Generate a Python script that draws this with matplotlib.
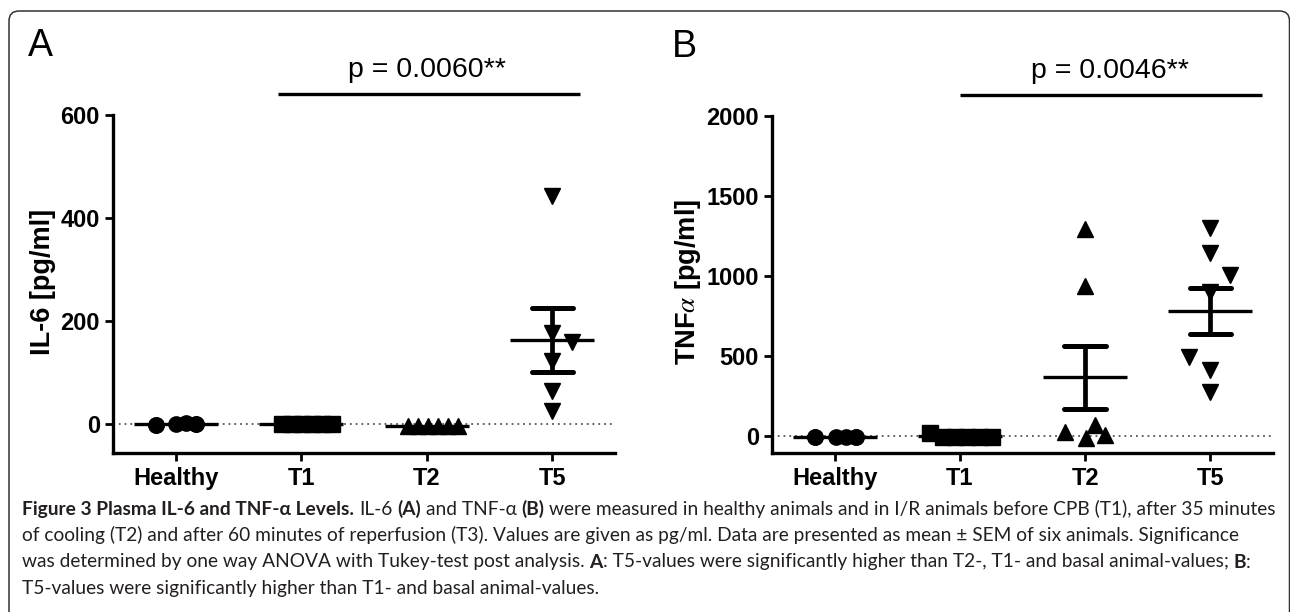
import matplotlib
matplotlib.use("Agg")
import matplotlib.pyplot as plt
import numpy as np
from matplotlib.patches import FancyBboxPatch
from matplotlib.transforms import IdentityTransform, blended_transform_factory

# ---------------- data ----------------
groups = ["Healthy", "T1", "T2", "T5"]

il6_healthy = [-1, -1, 1, 2, 0, 0]
il6_t1 = [0, 0, 0, 0, 0, 0]
il6_t2 = [-3, -3, -3, -3, -3, -3]
il6_t5 = [443, 177, 159, 122, 64, 26]
il6_mean = [0, 0, -3, 164]
il6_sem = [0, 0, 0, 62]

tnf_healthy = [-4, -4, -4, -4, -4, -4]
tnf_t1 = [17, -3, -3, -3, -3, -3]
tnf_t2 = [1294, 938, 27, -12, 69, 6]
tnf_t5 = [1300, 1146, 1006, 900, 496, 412, 277]
tnf_mean = [-4, 0, 366, 781]
tnf_sem = [0, 3, 198, 144]

p_text_a = "p = 0.0060**"
p_text_b = "p = 0.0046**"

# horizontal scatter offsets (layout only, category units)
jit_a = [
    [-0.155, -0.155, 0.0, 0.085, 0.165, 0.165],
    [-0.155, -0.075, 0.005, 0.085, 0.165, 0.245],
    [-0.15, -0.07, 0.01, 0.09, 0.17, 0.25],
    [0.0, 0.0, 0.16, 0.0, 0.0, 0.0],
]
jit_b = [
    [-0.155, -0.155, 0.01, 0.09, 0.17, 0.17],
    [-0.235, -0.135, -0.035, 0.06, 0.16, 0.26],
    [0.0, 0.0, -0.16, 0.01, 0.08, 0.16],
    [0.0, 0.0, 0.16, 0.0, -0.17, 0.0, 0.0],
]
markers = ["o", "s", "^", "v"]
msizes = [11, 11.5, 11.5, 11.5]

# ---------------- figure ----------------
W, H = 1290, 612
plt.rcParams["font.family"] = ["Liberation Sans", "DejaVu Sans"]
plt.rcParams["mathtext.fontset"] = "stix"
fig = plt.figure(figsize=(W / 100, H / 100), dpi=100)


def fbox(l, t, r, b):
    return [l / W, 1 - b / H, (r - l) / W, (b - t) / H]


# frame with rounded top corners
frame = FancyBboxPatch((9, -30), 1280.5, 612 - 11 + 30,
                       boxstyle="round,pad=0,rounding_size=10",
                       transform=IdentityTransform(), fill=False,
                       edgecolor="#333333", linewidth=1.1)
fig.patches.append(frame)

axA = fig.add_axes(fbox(113, 115, 615, 453))
axB = fig.add_axes(fbox(772, 116, 1273, 453))


def style_axes(ax, ylim, yticks):
    ax.set_facecolor("none")
    ax.set_xlim(-0.5, 3.5)
    ax.set_ylim(*ylim)
    for s in ["top", "right"]:
        ax.spines[s].set_visible(False)
    for s in ["left", "bottom"]:
        ax.spines[s].set_linewidth(2.4)
    ax.set_yticks(yticks)
    ax.set_xticks(range(len(groups)))
    ax.set_xticklabels(groups)
    ax.tick_params(axis="both", length=6, width=2.0, labelsize=17)
    ax.tick_params(axis="y", pad=3.5)
    ax.tick_params(axis="x", pad=4)
    for lab in ax.get_xticklabels() + ax.get_yticklabels():
        lab.set_fontweight("bold")
    ax.axhline(0, color="#555555", lw=1.3, ls=(0, (1, 2.2)), zorder=1)


def draw_panel(ax, series, jits, means, sems):
    for i, (vals, jit) in enumerate(zip(series, jits)):
        x = i + np.array(jit[: len(vals)])
        ax.plot(x, vals, ls="none", marker=markers[i], ms=msizes[i],
                color="black", mec="black", zorder=3, clip_on=False)
        m, s = means[i], sems[i]
        ax.plot([i - 0.335, i + 0.335], [m, m], color="black", lw=2.4,
                solid_capstyle="butt", zorder=4)
        if s > 5:
            ax.plot([i, i], [m - s, m + s], color="black", lw=3.4, zorder=4)
            for y in (m - s, m + s):
                ax.plot([i - 0.165, i + 0.165], [y, y], color="black", lw=3.6,
                        solid_capstyle="round", zorder=4)


def sig(ax, x0, x1, xt, text):
    tr = blended_transform_factory(ax.transData, ax.transAxes)
    ax.plot([x0, x1], [1.062, 1.062], transform=tr, color="black", lw=2.4,
            clip_on=False, solid_capstyle="butt")
    ax.text(xt, 1.112, text, transform=tr, ha="center", va="baseline",
            fontsize=20.5)


style_axes(axA, (-56, 600), [0, 200, 400, 600])
style_axes(axB, (-106, 2000), [0, 500, 1000, 1500, 2000])

draw_panel(axA, [il6_healthy, il6_t1, il6_t2, il6_t5], jit_a, il6_mean, il6_sem)
draw_panel(axB, [tnf_healthy, tnf_t1, tnf_t2, tnf_t5], jit_b, tnf_mean, tnf_sem)

sig(axA, 0.816, 3.224, 2.0, p_text_a)
sig(axB, 1.0, 3.416, 2.2, p_text_b)

fig.text(43 / W, 1 - 282 / H, "IL-6 [pg/ml]", rotation=90, ha="center",
         va="center", fontsize=19.5, fontweight="bold")
fig.text(688 / W, 1 - 282 / H, r"TNF$\alpha$ [pg/ml]", rotation=90,
         ha="center", va="center", fontsize=19.5, fontweight="bold")

fig.text(28 / W, 1 - 56 / H, "A", fontsize=27, va="baseline", ha="left")
fig.text(672 / W, 1 - 57 / H, "B", fontsize=27, va="baseline", ha="left")

# ---------------- caption ----------------
cap_family = ["Lato", "Open Sans", "DejaVu Sans"]
cap_color = "#231f20"
renderer = fig.canvas.get_renderer()

cap_lines = [
    [("Figure 3 Plasma IL-6 and TNF-α Levels.", True), (" IL-6 ", False), ("(A)", True),
     (" and TNF-α ", False), ("(B)", True),
     (" were measured in healthy animals and in I/R animals before CPB (T1), after 35 minutes", False)],
    [("of cooling (T2) and after 60 minutes of reperfusion (T3). Values are given as pg/ml. "
      "Data are presented as mean ± SEM of six animals. Significance", False)],
    [("was determined by one way ANOVA with Tukey-test post analysis. ", False), ("A", True),
     (": T5-values were significantly higher than T2-, T1- and basal animal-values; ", False),
     ("B", True), (":", False)],
    [("T5-values were significantly higher than T1- and basal animal-values.", False)],
]


def text_w(s, bold, size):
    t = fig.text(0, 0, s, fontsize=size, fontweight="bold" if bold else "normal",
                 family=cap_family)
    w = t.get_window_extent(renderer).width
    t.remove()
    return w


def space_w(bold, size):
    return text_w("a a", bold, size) - text_w("aa", bold, size)


def line_width(segs, size, draw_at=None):
    x = 0 if draw_at is None else draw_at[0]
    x0 = x
    for txt, bold in segs:
        lead = len(txt) - len(txt.lstrip(" "))
        trail = len(txt) - len(txt.rstrip(" "))
        core = txt.strip(" ")
        x += lead * space_w(bold, size)
        if core:
            t = fig.text(x / W, 1 - (draw_at[1] if draw_at else 0) / H, core,
                         fontsize=size, fontweight="bold" if bold else "normal",
                         family=cap_family, color=cap_color, va="baseline", ha="left")
            x += t.get_window_extent(renderer).width
            if draw_at is None:
                t.remove()
        x += trail * space_w(bold, size)
    return x - x0


base = 10.0
w1 = line_width(cap_lines[0], base)
cap_size = base * (1276 - 22) / w1

baselines = [515, 541, 567.5, 594]
for segs, yb in zip(cap_lines, baselines):
    line_width(segs, cap_size, draw_at=(22, yb))

fig.savefig("out.png", dpi=100)
